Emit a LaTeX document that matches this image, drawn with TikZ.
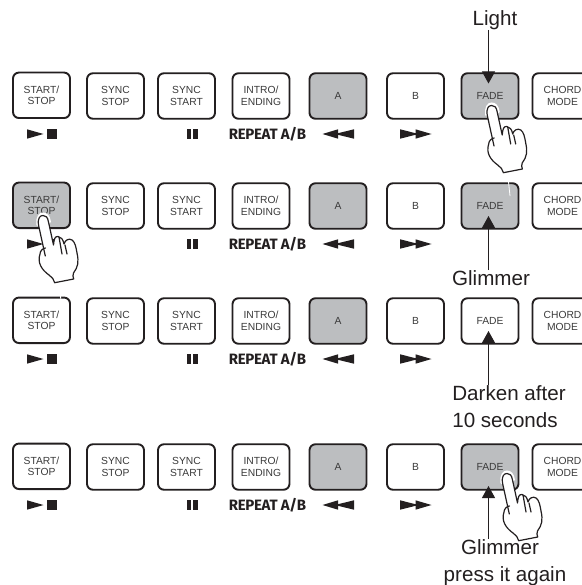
\documentclass[tikz,border=0pt]{standalone}
\usepackage{fontspec}
\setmainfont{Liberation Sans}
\newfontfamily\repfont[LetterSpace=-2]{Fira Sans}
\usetikzlibrary{arrows.meta}
\definecolor{ink}{HTML}{231F20}
\definecolor{lit}{HTML}{BCBEC0}
\definecolor{txt}{HTML}{3A3A3A}
\tikzset{x=1pt,y=-1pt,
 btn/.style={draw=ink,line width=1.9pt,rounded corners=6pt,minimum width=57pt,minimum height=45.5pt,inner sep=0pt,align=center,text=txt,font=\fontsize{10.3}{11.8}\selectfont,fill=white},
 on/.style={fill=lit},
 callout/.style={text=ink,font=\fontsize{20.6}{27}\selectfont,align=center,inner sep=0pt},
 rep/.style={text=ink,inner sep=0pt,font=\fontsize{15}{16}\repfont\bfseries},
 sym/.style={fill=ink,draw=none},
 lead/.style={draw=ink,line width=1pt,-{Triangle[length=12pt,width=13pt]}},
 handline/.style={draw=ink,line width=1.2pt,line join=round,line cap=round,fill=white},
 sliver/.style={draw=white,line width=.8pt}}
\newcommand{\btnrow}[4]{%
 \node[btn,#3] (start#1) at (41.5,#2-.7) {START/\\STOP};
 \node[btn] (ss#1) at (115.5,#2) {SYNC\\STOP};
 \node[btn] (sy#1) at (186.5,#2) {SYNC\\START};
 \node[btn] (in#1) at (261,#2) {INTRO/\\ENDING};
 \node[btn,on] (a#1) at (338,#2) {A};
 \node[btn] (b#1) at (415.5,#2) {B};
 \node[btn,#4] (fade#1) at (490,#2) {FADE};
 \node[btn,minimum width=60pt] (ch#1) at (562.5,#2) {CHORD\\MODE};
 \begin{scope}[shift={(0,#2+38)}]
  \fill[sym] (27,-4.7) -- (43.5,0) -- (27,4.7) -- cycle;
  \fill[sym] (47,-4.7) rectangle (56.5,4.7);
  \fill[sym] (186.5,-4.7) rectangle (191.3,4.7);
  \fill[sym] (193,-4.7) rectangle (198,4.7);
  \node[rep] (rep#1) at (267.5,0) {REPEAT A/B};
  \fill[sym] (322.5,0) -- (338,-4.7) -- (338,-.8) -- (354,-4.7) -- (354,4.7) -- (338,.8) -- (338,4.7) -- cycle;
  \fill[sym] (400,-4.7) -- (415.5,-.8) -- (415.5,-4.7) -- (431.5,0) -- (415.5,4.7) -- (415.5,.8) -- (400,4.7) -- cycle;
 \end{scope}}
\newcommand{\hand}[2]{%
 \begin{scope}[shift={(#1,#2)}]
  \draw[white,line width=3pt,line cap=round] (-5,8) .. controls (-6,0) and (-3,-3) .. (0,-3) .. controls (3,-3) and (5.5,-1) .. (6.5,5);
  \draw[handline] (2.3,39) -- (-4.5,8) .. controls (-5.5,1) and (-3,-1.5) .. (0,-1.5)
   .. controls (3,-1.5) and (4.6,0) .. (5.5,5) -- (10.5,28)
   .. controls (11,22) and (12,19) .. (15,19.5) .. controls (18,20) and (20,22) .. (21,27)
   .. controls (22,23) and (26,21) .. (29,23) .. controls (32,25) and (33,30) .. (34,36)
   .. controls (36,45) and (35,50) .. (30.5,56) .. controls (29.5,58) and (30,60) .. (30.7,62)
   -- (11.7,65.7) .. controls (11,62.5) and (9,60) .. (6,58)
   .. controls (-1,53) and (-6,46) .. (-3,37) .. controls (-3,34) and (0,31) .. (2.5,31);
  \draw[handline,fill=none] (16,20) -- (19,37);
  \draw[handline,fill=none] (22,28) -- (24,37);
 \end{scope}}
\begin{document}
\begin{tikzpicture}
\useasboundingbox (0,0) rectangle (581,585);
\fill[white] (0,0) rectangle (581,585);
\btnrow{1}{96}{}{on}
\btnrow{2}{206}{on}{on}
\btnrow{3}{321}{}{}
\btnrow{4}{467}{}{on}
\draw[sliver] (508.5,182) -- (510,196);
\draw[sliver] (60.5,296) -- (60.8,299.5);
% labels
\node[callout] (light) at (495,20) {Light};
\node[callout] (glim2) at (491,278) {Glimmer};
\node[callout,align=left] (dark) at (509,406.5) {Darken after\\10 seconds};
\node[callout] (glim4) at (500,547) {Glimmer};
\node[callout] (press) at (505,576) {press it again};
% connectors
\coordinate (t1) at (488.5,83.5);
\coordinate (t2) at (488.5,216);
\coordinate (t3) at (488.5,331);
\coordinate (t4) at (488.5,486);
\draw[lead] (light.south -| t1) -- (t1);
\draw[lead] (glim2.north -| t2) -- (t2);
\draw[lead] (dark.north -| t3) -- (t3);
\draw[lead] (glim4.north -| t4) -- (t4);
\hand{491.7}{107}
\hand{43}{217}
\hand{507}{475}
\end{tikzpicture}
\end{document}
